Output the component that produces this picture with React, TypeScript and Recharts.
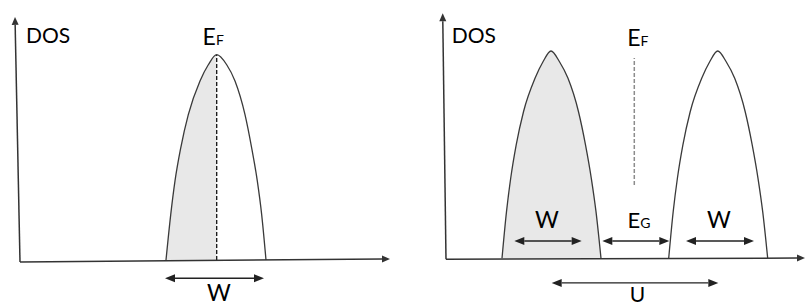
import React from 'react';
import { ComposedChart, Area, Line, XAxis, YAxis, ReferenceLine, ReferenceDot } from 'recharts';

// energy in units of ~W (E_F = 0), DOS normalised to the band peak
const metalEnergy = [-0.507, -0.46, -0.417, -0.36, -0.284, -0.167, -0.084, 0, 0.1, 0.183, 0.283, 0.35, 0.406, 0.45, 0.493];
const metalDos = [0, 0.22, 0.385, 0.545, 0.708, 0.872, 0.951, 1, 0.951, 0.872, 0.708, 0.545, 0.385, 0.22, 0];

const lowerEnergy = [-1.323, -1.278, -1.236, -1.181, -1.108, -0.993, -0.913, -0.833, -0.748, -0.663, -0.558, -0.488, -0.43, -0.383, -0.333];
const lowerDos = [0, 0.225, 0.386, 0.547, 0.707, 0.868, 0.948, 1, 0.948, 0.868, 0.707, 0.547, 0.386, 0.225, 0];

const upperEnergy = [0.344, 0.389, 0.431, 0.486, 0.559, 0.674, 0.754, 0.834, 0.919, 1.004, 1.109, 1.179, 1.237, 1.284, 1.334];
const upperDos = [0, 0.225, 0.386, 0.547, 0.707, 0.868, 0.948, 1, 0.948, 0.868, 0.707, 0.547, 0.386, 0.225, 0];

const rows = (es: number[], ds: number[]) => es.map((e, i) => ({ e, dos: ds[i] }));
const metalBand = rows(metalEnergy, metalDos);
const metalFilled = metalBand.filter((r) => r.e <= 0);
const lowerBand = rows(lowerEnergy, lowerDos);
const upperBand = rows(upperEnergy, upperDos);

const INK = '#3a3a3a';
const FILL = '#e8e8e8';
const FONT = 'Lato, "Open Sans", sans-serif';

const head = (tx: number, ty: number, ux: number, uy: number, len: number, half: number) => {
  const bx = tx - ux * len;
  const by = ty - uy * len;
  return `${tx},${ty} ${bx - uy * half},${by + ux * half} ${bx + uy * half},${by - ux * half}`;
};

const ArrowLine = (p: any) => {
  const { x1, y1, x2, y2, both, len = 9, half = 4, width = 1.5, color = INK } = p;
  if (x1 == null || x2 == null) return null;
  const d = Math.hypot(x2 - x1, y2 - y1) || 1;
  const ux = (x2 - x1) / d;
  const uy = (y2 - y1) / d;
  const sx = both ? x1 + ux * len : x1;
  const sy = both ? y1 + uy * len : y1;
  return (
    <g>
      <line x1={sx} y1={sy} x2={x2 - ux * len} y2={y2 - uy * len} stroke={color} strokeWidth={width} />
      <polygon points={head(x2, y2, ux, uy, len, half)} fill={color} />
      {both && <polygon points={head(x1, y1, -ux, -uy, len, half)} fill={color} />}
    </g>
  );
};

const axisArrow = (p: any) => <ArrowLine {...p} len={8} half={3.5} width={1.5} color="#333" />;
const spanArrow = (p: any) => <ArrowLine {...p} both len={10} half={4} width={1.3} color="#222" />;

const textAt = (text: string, sub?: string, anchor: 'start' | 'middle' = 'middle', size = 22) =>
  (p: any) => (
    <text x={p.cx} y={p.cy} textAnchor={anchor} fontFamily={FONT} fontSize={size} fill="#000">
      {text}
      {sub && <tspan fontSize={Math.round(size * 0.62)}>{sub}</tspan>}
    </text>
  );

const Span = ({ from, to, at }: { from: number; to: number; at: number }) => (
  <ReferenceLine segment={[{ x: from, y: at }, { x: to, y: at }]} ifOverflow="visible" shape={spanArrow} />
);

const Tag = ({ e, dos, shape }: { e: number; dos: number; shape: any }) => (
  <ReferenceDot x={e} y={dos} r={0} ifOverflow="visible" shape={shape} />
);

const MetalPanel = () => (
  <ComposedChart width={403} height={306} margin={{ top: 0, right: 0, bottom: 0, left: 0 }}>
    <XAxis type="number" dataKey="e" domain={[-2.167, 1.863]} hide allowDataOverflow />
    <YAxis type="number" dataKey="dos" domain={[-0.2241, 1.2664]} hide allowDataOverflow />
    <Area data={metalFilled} dataKey="dos" type="monotone" fill={FILL} fillOpacity={1} stroke="none" baseValue={0} dot={false} activeDot={false} isAnimationActive={false} />
    <ReferenceLine segment={[{ x: 0, y: 0 }, { x: 0, y: 1 }]} stroke="#111" strokeWidth={1.3} strokeDasharray="4 2" ifOverflow="visible" />
    <Line data={metalBand} dataKey="dos" type="monotone" stroke={INK} strokeWidth={1.3} dot={false} activeDot={false} isAnimationActive={false} />
    <ReferenceLine segment={[{ x: -1.967, y: -0.01 }, { x: -2.017, y: 1.184 }]} ifOverflow="visible" shape={axisArrow} />
    <ReferenceLine segment={[{ x: -1.967, y: -0.01 }, { x: 1.733, y: 0.005 }]} ifOverflow="visible" shape={axisArrow} />
    <Span from={-0.517} to={0.473} at={-0.089} />
    <Tag e={-1.907} dos={1.057} shape={textAt('DOS', undefined, 'start', 21)} />
    <Tag e={-0.035} dos={1.045} shape={textAt('E', 'F', 'middle', 23)} />
    <Tag e={0.023} dos={-0.2} shape={textAt('W', undefined, 'middle', 23)} />
  </ComposedChart>
);

const InsulatorPanel = () => (
  <ComposedChart width={403} height={306} margin={{ top: 0, right: 0, bottom: 0, left: 0 }}>
    <XAxis type="number" dataKey="e" domain={[-2.313, 1.717]} hide allowDataOverflow />
    <YAxis type="number" dataKey="dos" domain={[-0.2301, 1.246]} hide allowDataOverflow />
    <Area data={lowerBand} dataKey="dos" type="monotone" fill={FILL} fillOpacity={1} stroke={INK} strokeWidth={1.3} baseValue={0} dot={false} activeDot={false} isAnimationActive={false} />
    <Line data={upperBand} dataKey="dos" type="monotone" stroke={INK} strokeWidth={1.3} dot={false} activeDot={false} isAnimationActive={false} />
    <ReferenceLine segment={[{ x: 0, y: 0.354 }, { x: 0, y: 0.966 }]} stroke="#8c8c8c" strokeWidth={1.5} strokeDasharray="4 2" ifOverflow="visible" />
    <ReferenceLine segment={[{ x: -1.883, y: -0.005 }, { x: -1.916, y: 1.182 }]} ifOverflow="visible" shape={axisArrow} />
    <ReferenceLine segment={[{ x: -1.883, y: -0.005 }, { x: 1.707, y: 0.001 }]} ifOverflow="visible" shape={axisArrow} />
    <Span from={-1.2} to={-0.526} at={0.0835} />
    <Span from={-0.32} to={0.35} at={0.0835} />
    <Span from={0.517} to={1.197} at={0.0835} />
    <Span from={-0.826} to={0.84} at={-0.119} />
    <Tag e={-1.826} dos={1.037} shape={textAt('DOS', undefined, 'start', 21)} />
    <Tag e={0.035} dos={1.026} shape={textAt('E', 'F', 'middle', 23)} />
    <Tag e={-0.873} dos={0.146} shape={textAt('W', undefined, 'middle', 23)} />
    <Tag e={0.047} dos={0.146} shape={textAt('E', 'G')} />
    <Tag e={0.847} dos={0.146} shape={textAt('W', undefined, 'middle', 23)} />
    <Tag e={0.032} dos={-0.212} shape={textAt('U', undefined, 'middle', 21)} />
  </ComposedChart>
);

export default function App() {
  return (
    <div style={{ position: 'absolute', left: 0, top: 0, width: 806, height: 306, background: '#fff' }}>
      <div style={{ position: 'absolute', left: 0, top: 0 }}>
        <MetalPanel />
      </div>
      <div style={{ position: 'absolute', left: 403, top: 0 }}>
        <InsulatorPanel />
      </div>
    </div>
  );
}
